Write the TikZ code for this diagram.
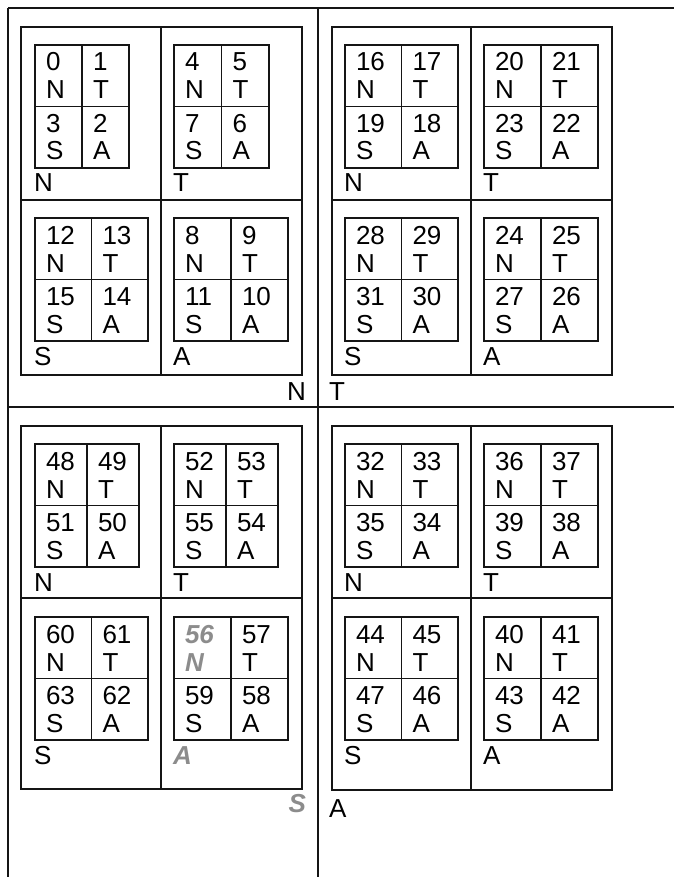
\documentclass[tikz,border=0pt]{standalone}
\usepackage{fontspec}
\setmainfont{Liberation Sans}
\definecolor{greytxt}{HTML}{8C8C8C}
\definecolor{ink}{HTML}{151515}
\tikzset{
  cellbox/.style={draw=ink, line width=1.1pt, inner sep=0pt, outer sep=0pt, anchor=north west},
  txt/.style={inner sep=0pt, outer sep=0pt, anchor=base west, text=black, font=\fontsize{26}{29}\selectfont},
  rtxt/.style={txt, anchor=base east},
  hl/.style={text=greytxt, font=\fontsize{26}{29}\selectfont\bfseries\itshape},
  frame/.style={draw=ink, line width=1.1pt},
}
\newcommand\mygrid[6]{%
  \node[cellbox, minimum width=#4pt, minimum height=61.5pt] (#1-n) at (#2,#3) {};
  \node[cellbox, minimum width=#4pt, minimum height=61.5pt] (#1-t) at (#2+#4,#3) {};
  \node[cellbox, minimum width=#4pt, minimum height=61.5pt] (#1-a) at (#2+#4,#3+61.5) {};
  \node[cellbox, minimum width=#4pt, minimum height=61.5pt] (#1-s) at (#2,#3+61.5) {};
  \node[txt,#6] (#1-n1) at (#2+11,#3+26) {\number\numexpr#5\relax};
  \node[txt,#6] (#1-n2) at (#2+11,#3+54) {N};
  \node[txt] (#1-t1) at (#2+#4+11,#3+26) {\number\numexpr#5+1\relax};
  \node[txt] (#1-t2) at (#2+#4+11,#3+54) {T};
  \node[txt] (#1-a1) at (#2+#4+11,#3+87.5) {\number\numexpr#5+2\relax};
  \node[txt] (#1-a2) at (#2+#4+11,#3+115) {A};
  \node[txt] (#1-s1) at (#2+11,#3+87.5) {\number\numexpr#5+3\relax};
  \node[txt] (#1-s2) at (#2+11,#3+115) {S};
}
\begin{document}
\begin{tikzpicture}[x=1pt,y=-1pt]
\useasboundingbox (0,0) rectangle (674,877);
% outer frame lines
\draw[frame] (8,8) -- (674,8);
\draw[frame] (8,407) -- (674,407);
\draw[frame] (8,8) -- (8,877);
\draw[frame] (318,8) -- (318,877);
% inner boxes
\draw[frame] (21,27) rectangle (302,375);
\draw[frame] (161,27) -- (161,375);
\draw[frame] (21,200) -- (302,200);
\draw[frame] (332,27) rectangle (612,375);
\draw[frame] (471,27) -- (471,375);
\draw[frame] (332,200) -- (612,200);
\draw[frame] (21,426) rectangle (302,789);
\draw[frame] (161,426) -- (161,789);
\draw[frame] (21,598) -- (302,598);
\draw[frame] (332,426) rectangle (612,790);
\draw[frame] (471,426) -- (471,790);
\draw[frame] (332,598) -- (612,598);
% grids
\mygrid{g0}{35}{45}{47}{0}{}
\mygrid{g4}{174}{45}{47.5}{4}{}
\mygrid{g12}{35}{218}{56.5}{12}{}
\mygrid{g8}{174}{218}{57}{8}{}
\mygrid{g16}{345}{45}{56.5}{16}{}
\mygrid{g20}{484}{45}{57}{20}{}
\mygrid{g28}{345}{218}{56.5}{28}{}
\mygrid{g24}{484}{218}{57}{24}{}
\mygrid{g48}{35}{444}{52}{48}{}
\mygrid{g52}{174}{444}{52}{52}{}
\mygrid{g60}{35}{617}{56.5}{60}{}
\mygrid{g56}{174}{617}{57}{56}{hl}
\mygrid{g32}{345}{444}{56.5}{32}{}
\mygrid{g36}{484}{444}{57}{36}{}
\mygrid{g44}{345}{617}{56.5}{44}{}
\mygrid{g40}{484}{617}{57}{40}{}
% labels below grids
\node[txt] (l0) at (34,192) {N};
\node[txt] (l4) at (173,192) {T};
\node[txt] (l12) at (34,365) {S};
\node[txt] (l8) at (173,365) {A};
\node[txt] (l16) at (344,192) {N};
\node[txt] (l20) at (483,192) {T};
\node[txt] (l28) at (344,365) {S};
\node[txt] (l24) at (483,365) {A};
\node[txt] (l48) at (34,591) {N};
\node[txt] (l52) at (173,591) {T};
\node[txt] (l60) at (34,764) {S};
\node[txt,hl] (l56) at (173,764) {A};
\node[txt] (l32) at (344,591) {N};
\node[txt] (l36) at (483,591) {T};
\node[txt] (l44) at (344,764) {S};
\node[txt] (l40) at (483,764) {A};
% quadrant labels
\node[rtxt] (qN) at (306,400) {N};
\node[txt] (qT) at (329,400) {T};
\node[rtxt,hl] (qS) at (306,812) {S};
\node[txt] (qA) at (329,817) {A};
\end{tikzpicture}
\end{document}
